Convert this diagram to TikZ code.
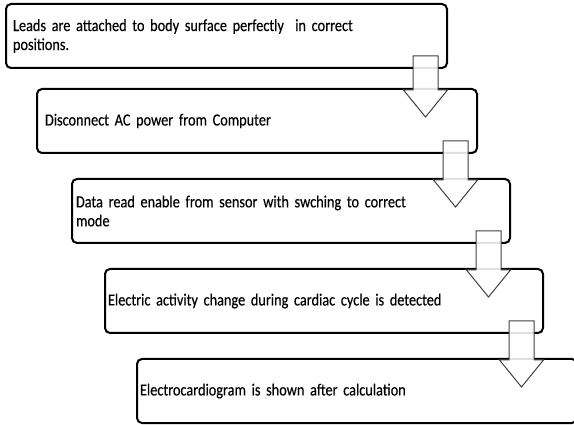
\documentclass[tikz,border=0pt]{standalone}
\usepackage{fontspec}
\setmainfont{Carlito}[FakeStretch=0.84, FakeBold=0.3]
\usetikzlibrary{calc}

% Type of the step texts: condensed Carlito with tight word spaces
\newcommand\stepfont{\fontsize{17}{19}\selectfont\spaceskip=3.3pt\relax}

% Block arrow from the lower right of one step box into the next one
\newcommand\steparrow[2]{%
  \path[flowarrow] let \p1=(#1.south east), \p2=(#2.north west) in
    ({\x1-34pt},{\y1+12pt}) -- ({\x1-9pt},{\y1+12pt}) --
    ({\x1-9pt},{\y2-1pt}) -- ({\x1+0.5pt},{\y2-1pt}) --
    ({\x1-21.5pt},{\y2-28pt}) -- ({\x1-43.5pt},{\y2-1pt}) --
    ({\x1-34pt},{\y2-1pt}) -- cycle;}

\begin{document}
\begin{tikzpicture}[x=1pt,y=-1pt,
  stepbox/.style={draw=black, line width=2pt, rounded corners=5pt,
    rectangle, anchor=north west, minimum height=64pt, inner ysep=0pt,
    outer sep=0pt, align=left, font=\stepfont},
  flowarrow/.style={draw=black!75, line width=1pt, fill=white,
    fill opacity=0.88, line join=miter}]
\useasboundingbox (0,0) rectangle (574,425);
\clip (0,0) rectangle (574,425);

\node[stepbox, inner xsep=7pt, text width=427pt] (b1) at (6,4)
  {Leads are attached to body surface perfectly~ in correct\\positions.};
\node[stepbox, inner xsep=8pt, text width=424pt] (b2) at (37,89)
  {Disconnect AC power from Computer};
\node[stepbox, inner xsep=4pt, text width=430pt] (b3) at (72,179)
  {Data read enable from sensor with swching to correct\\mode};
\node[stepbox, inner xsep=3pt, text width=432pt] (b4) at (105,269)
  {Electric activity change during cardiac cycle is detected};
\node[stepbox, inner xsep=3pt, text width=434pt] (b5) at (137,359)
  {Electrocardiogram is shown after calculation};

\steparrow{b1}{b2}
\steparrow{b2}{b3}
\steparrow{b3}{b4}
\steparrow{b4}{b5}
\end{tikzpicture}
\end{document}
